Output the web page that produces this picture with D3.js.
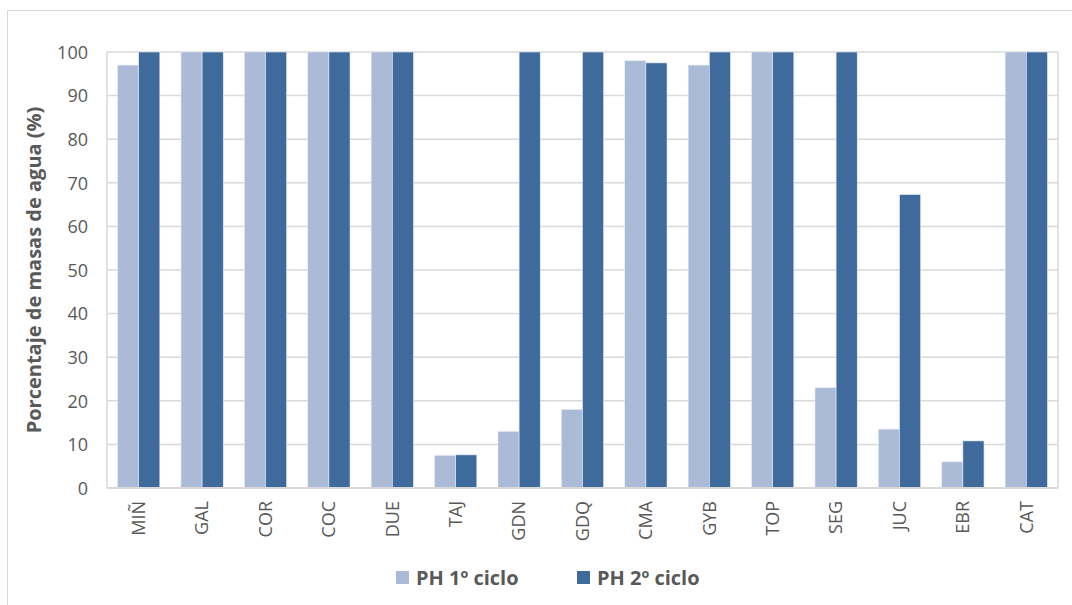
<!DOCTYPE html>
<html><head><meta charset="utf-8">
<script src="https://cdn.jsdelivr.net/npm/d3@7/dist/d3.min.js"></script>
<style>body{margin:0;background:#fff}svg{display:block}</style>
</head><body><svg id="c" width="1072" height="605"></svg>
<script>
const categories = ["MIÑ","GAL","COR","COC","DUE","TAJ","GDN","GDQ","CMA","GYB","TOP","SEG","JUC","EBR","CAT"];
const ciclo1 = [97,100,100,100,100,7.5,13,18,98,97,100,23,13.5,6,100];
const ciclo2 = [100,100,100,100,100,7.6,100,100,97.5,100,100,100,67.3,10.8,100];
const seriesNames = ["PH 1º ciclo","PH 2º ciclo"];
const yTicks = [0,10,20,30,40,50,60,70,80,90,100];
const colors = ["#abbad7","#3f6a9c"];

const svg = d3.select("#c");
const font = "'Open Sans', 'Noto Sans', sans-serif";
svg.append("rect").attr("x",7.5).attr("y",10.5).attr("width",1080).attr("height",620)
  .attr("fill","#fff").attr("stroke","#d9d9d9").attr("stroke-width",1);

const L=107,R=1058,T=52,B=488;
const x = d3.scaleBand().domain(categories).range([L,R]).paddingInner(1/3).paddingOuter(1/6);
const xs = d3.scaleBand().domain([0,1]).range([0,x.bandwidth()]);
const y = d3.scaleLinear().domain([0,100]).range([B,T]);

const g = svg.append("g");
g.selectAll("line.grid").data(yTicks).join("line").attr("class","grid")
  .attr("x1",L).attr("x2",R).attr("y1",d=>y(d)).attr("y2",d=>y(d))
  .attr("stroke","#d9d9d9").attr("stroke-width",1.5);
g.append("line").attr("x1",L).attr("x2",L).attr("y1",T).attr("y2",B).attr("stroke","#d9d9d9").attr("stroke-width",1.5);
g.append("line").attr("x1",R).attr("x2",R).attr("y1",T).attr("y2",B).attr("stroke","#d9d9d9").attr("stroke-width",1.5);

const data = categories.map((c,i)=>({c, v:[ciclo1[i],ciclo2[i]]}));
const grp = g.selectAll("g.cat").data(data).join("g").attr("transform",d=>`translate(${x(d.c)},0)`);
grp.selectAll("rect").data(d=>d.v.map((v,k)=>({v,k}))).join("rect")
  .attr("x",d=>xs(d.k)).attr("width",xs.bandwidth())
  .attr("y",d=>y(d.v)).attr("height",d=>y(0)-y(d.v))
  .attr("fill",d=>colors[d.k]).attr("stroke","#e6ecf5").attr("stroke-width",0.6);

g.append("line").attr("x1",L).attr("x2",R).attr("y1",B).attr("y2",B).attr("stroke","#d9d9d9").attr("stroke-width",2);

// y axis
const ya = d3.axisLeft(y).tickValues(yTicks).tickSize(0).tickPadding(0);
svg.append("g").attr("transform",`translate(${L-19},0)`).call(ya)
  .call(s=>s.select(".domain").remove())
  .selectAll("text").attr("font-family",font).attr("font-size",18).attr("fill","#595959").attr("dy","0.35em");

// x axis
const xa = d3.axisBottom(x).tickSize(0).tickPadding(0);
svg.append("g").attr("transform",`translate(0,${B})`).call(xa)
  .call(s=>s.select(".domain").remove())
  .selectAll("text").attr("font-family",font).attr("font-size",18).attr("fill","#595959")
  .attr("transform","rotate(-90)").attr("text-anchor","end").attr("x",-13).attr("y",0).attr("dy","0.35em");

svg.append("text").attr("transform","translate(41,270) rotate(-90)").attr("text-anchor","middle")
  .attr("font-family",font).attr("font-size",20).attr("font-weight","bold").attr("fill","#595959")
  .text("Porcentaje de masas de agua (%)");

// legend
const lg = svg.append("g");
const lx=[396,577];
seriesNames.forEach((n,i)=>{
  lg.append("rect").attr("x",lx[i]).attr("y",571).attr("width",13).attr("height",13).attr("fill",colors[i]);
  lg.append("text").attr("x",lx[i]+20).attr("y",578).attr("dy","0.35em")
    .attr("font-family",font).attr("font-size",20).attr("font-weight","bold").attr("fill","#595959").text(n);
});
</script></body></html>
